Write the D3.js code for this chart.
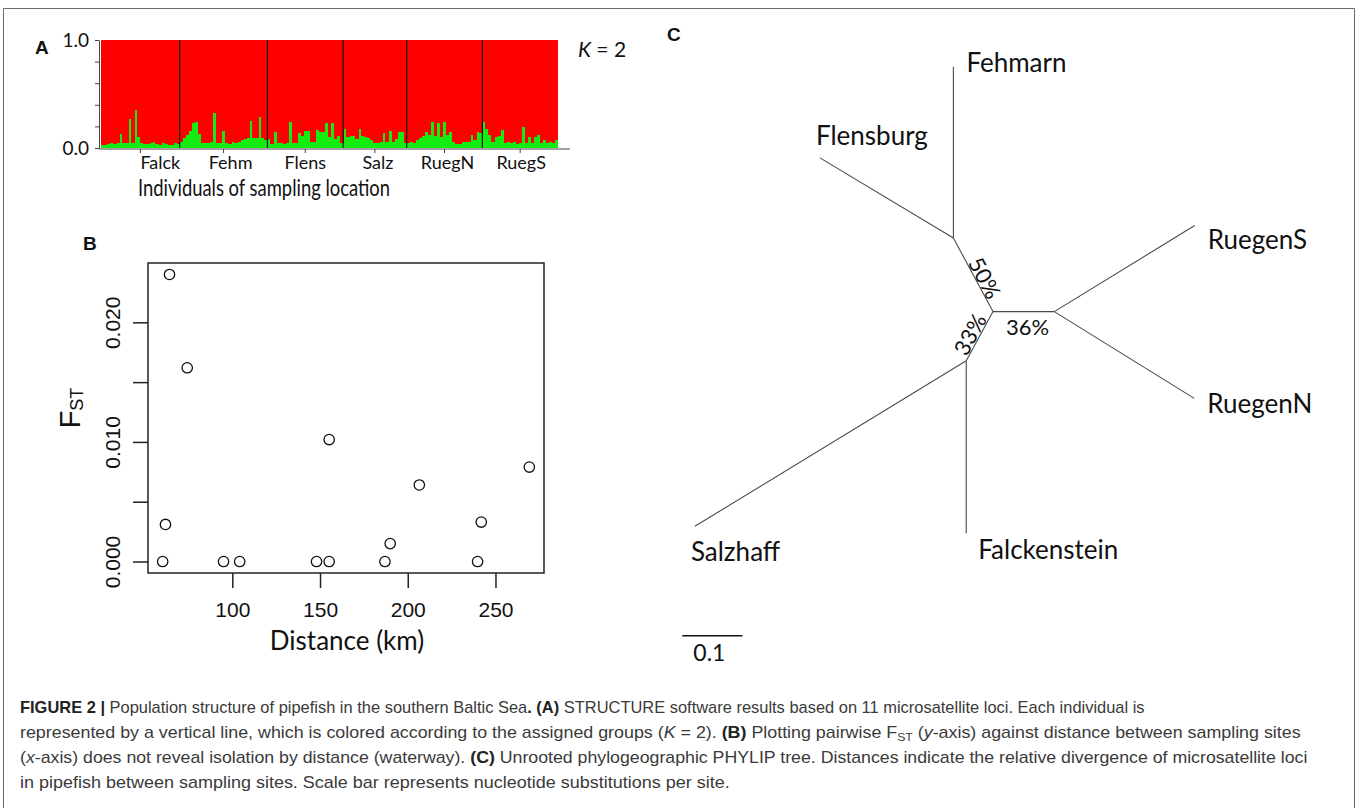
<!DOCTYPE html>
<html><head><meta charset="utf-8">
<script src="https://cdn.jsdelivr.net/npm/d3@7"></script>
<style>body{margin:0;background:#fff}svg{display:block}</style>
</head><body>
<svg id="c" width="1358" height="808"></svg>
<script>
// ---------- DATA ----------
const groups = ["Falck","Fehm","Flens","Salz","RuegN","RuegS"];
// green (cluster 2) membership per individual, by sampling location
const falck = [0.03,0.03,0.04,0.05,0.04,0.05,0.13,0.05,0.05,0.27,0.05,0.35,0.10,0.05,0.04,0.04,0.05,0.06,0.04,0.03,0.05,0.04,0.03,0.03,0.05,0.04];
const fehm  = [0.06,0.09,0.12,0.16,0.23,0.24,0.13,0.05,0.05,0.05,0.06,0.32,0.05,0.05,0.16,0.05,0.04,0.06,0.05,0.06,0.07,0.08,0.09,0.25,0.09,0.09,0.29,0.09,0.07];
const flens = [0.08,0.04,0.15,0.05,0.05,0.04,0.05,0.24,0.05,0.05,0.14,0.11,0.16,0.16,0.06,0.06,0.17,0.15,0.15,0.23,0.10,0.23,0.08,0.11,0.05];
const salz  = [0.18,0.10,0.11,0.11,0.08,0.18,0.11,0.10,0.09,0.07,0.05,0.05,0.06,0.14,0.06,0.16,0.06,0.08,0.15,0.15,0.05];
const ruegN = [0.05,0.06,0.05,0.07,0.09,0.11,0.15,0.12,0.24,0.11,0.23,0.10,0.24,0.12,0.15,0.06,0.04,0.04,0.06,0.06,0.06,0.12,0.07,0.15,0.14];
const ruegS = [0.24,0.18,0.12,0.06,0.10,0.11,0.17,0.05,0.06,0.05,0.06,0.04,0.05,0.19,0.05,0.10,0.05,0.10,0.12,0.05,0.07,0.05,0.06,0.05,0.07];
const yTicksA = [0,0.2,0.4,0.6,0.8,1.0];

// Panel B: pairwise distance (km) vs FST
const distance = [60.3,64.2,74.3,61.9,95.0,104.2,148.0,155.2,155.2,187.0,190.0,206.6,239.8,241.9,269.3];
const fst      = [0.0,0.024,0.0162,0.0031,0.0,0.0,0.0,0.0,0.0102,0.0,0.0015,0.0064,0.0,0.0033,0.0079];
const xTicksB = [100,150,200,250];
const yTicksB = [0,0.005,0.010,0.015,0.020];
const yLabelsB = [0,0.010,0.020];

// Panel C: unrooted tree (branch length in substitutions/site, direction in degrees)
const treeEdges = [
  {from:"c",  to:"n1", len:0.139, ang:-118.3, label:"50%"},
  {from:"c",  to:"n2", len:0.102, ang:0,      label:"36%"},
  {from:"c",  to:"n3", len:0.093, ang:118.6,  label:"33%"},
  {from:"n1", to:"Fehmarn",      len:0.285, ang:-90},
  {from:"n1", to:"Flensburg",    len:0.259, ang:-149},
  {from:"n2", to:"RuegenS",      len:0.274, ang:-31.5},
  {from:"n2", to:"RuegenN",      len:0.274, ang:31.8},
  {from:"n3", to:"Salzhaff",     len:0.529, ang:148.6},
  {from:"n3", to:"Falckenstein", len:0.287, ang:90}
];
const scaleBarValue = 0.1;

const captionLines = [
  [["FIGURE 2 | ","b"],["Population structure of pipefish in the southern Baltic Sea",""],[". (A)","b"],[" STRUCTURE software results based on 11 microsatellite loci. Each individual is",""]],
  [["represented by a vertical line, which is colored according to the assigned groups (",""],["K","i"],[" = 2). ",""],["(B)","b"],[" Plotting pairwise F",""],["ST","sub"],[" (",""],["y","i"],["-axis) against distance between sampling sites",""]],
  [["(",""],["x","i"],["-axis) does not reveal isolation by distance (waterway). ",""],["(C)","b"],[" Unrooted phylogeographic PHYLIP tree. Distances indicate the relative divergence of microsatellite loci",""]],
  [["in pipefish between sampling sites. Scale bar represents nucleotide substitutions per site.",""]]
];

// ---------- DRAW ----------
const svg = d3.select("#c");
const CAL = "Lato,'Open Sans',sans-serif";
const HEL = "'Liberation Sans',Arial,sans-serif";

// frame
svg.append("path").attr("d","M3.5,808 V8.5 H1354.5 V808").attr("fill","none").attr("stroke","#6a6a6a").attr("stroke-width",1);

// panel letters
const letter = (t,x,y)=>svg.append("text").attr("x",x).attr("y",y).text(t)
  .attr("font-family",HEL).attr("font-weight","bold").attr("font-size",19).attr("fill","#111");
letter("A",35,54); letter("B",83,250); letter("C",667,41);

// ---- Panel A ----
const gA = svg.append("g");
const greenByGroup = [falck,fehm,flens,salz,ruegN,ruegS];
const green = [].concat(...greenByGroup);
const xA = d3.scaleBand().domain(d3.range(green.length)).range([101,558]);
const yA = d3.scaleLinear().domain([0,1]).range([148,40]);
const stacked = d3.stack().keys(["green","red"])(green.map(g=>({green:g,red:1-g})));
const colA = {green:"#13ec13", red:"#fe0000"};
gA.selectAll("g.layer").data(stacked).join("g").attr("fill",d=>colA[d.key])
  .selectAll("rect").data(d=>d).join("rect")
  .attr("shape-rendering","crispEdges")
  .attr("x",(d,i)=>xA(i)).attr("width",xA.bandwidth()+0.4)
  .attr("y",d=>yA(d[1])).attr("height",d=>yA(d[0])-yA(d[1]));
// group boundaries
let cum = 0; const bounds = [], centers = [];
greenByGroup.forEach(arr=>{ centers.push(xA(cum) + arr.length*xA.step()/2); cum += arr.length; bounds.push(cum); });
gA.selectAll("line.div").data(bounds.slice(0,-1)).join("line")
  .attr("x1",d=>xA(d)).attr("x2",d=>xA(d)).attr("y1",yA(1)).attr("y2",yA(0))
  .attr("stroke","#111").attr("stroke-width",1.2);
// y axis
const axA = gA.append("g").attr("transform","translate(99,0)")
  .call(d3.axisLeft(yA).tickValues(yTicksA).tickSize(4).tickSizeOuter(0).tickPadding(6)
  .tickFormat(d=>(d===0||d===1)?d.toFixed(1):""));
axA.select(".domain").attr("stroke","#444");
axA.selectAll(".tick line").attr("stroke","#444");
axA.selectAll("text").attr("font-family",CAL).attr("font-size",19).attr("fill","#111");
// x axis baseline and group ticks
gA.append("line").attr("x1",99).attr("x2",570).attr("y1",149).attr("y2",149).attr("stroke","#444");
gA.selectAll("line.gt").data(centers).join("line")
  .attr("x1",d=>d).attr("x2",d=>d).attr("y1",149).attr("y2",153).attr("stroke","#444");
const labelShift = [20,7,0,3,3,1];
gA.selectAll("text.gl").data(groups).join("text")
  .attr("x",(d,i)=>centers[i]+labelShift[i]).attr("y",169).attr("text-anchor","middle")
  .attr("font-family",CAL).attr("font-size",18).attr("fill","#111").text(d=>d);
gA.append("text").attr("x",264).attr("y",196).attr("text-anchor","middle")
  .attr("font-family",CAL).attr("font-size",23).attr("fill","#111")
  .attr("textLength",252).attr("lengthAdjust","spacingAndGlyphs").text("Individuals of sampling location");
const kt = gA.append("text").attr("x",578).attr("y",57).attr("font-family",CAL).attr("font-size",21).attr("fill","#111");
kt.append("tspan").attr("font-style","italic").text("K");
kt.append("tspan").text(" = 2");

// ---- Panel B ----
const gB = svg.append("g");
const pad = (a,b)=>[a-(b-a)*0.04, b+(b-a)*0.04];
const xB = d3.scaleLinear().domain(pad(d3.min(distance),d3.max(distance))).range([148,544]);
const yB = d3.scaleLinear().domain(pad(0,d3.max(fst))).range([573,263]);
gB.append("rect").attr("x",148).attr("y",263).attr("width",396).attr("height",310)
  .attr("fill","none").attr("stroke","#222").attr("stroke-width",1.5);
const axBx = gB.append("g").attr("transform","translate(0,573)")
  .call(d3.axisBottom(xB).tickValues(xTicksB).tickSize(15).tickSizeOuter(0).tickPadding(14).tickFormat(d3.format("d")));
axBx.select(".domain").remove();
axBx.selectAll(".tick line").attr("stroke","#222").attr("stroke-width",1.5);
axBx.selectAll("text").attr("font-family",HEL).attr("font-size",21).attr("fill","#111");
const axBy = gB.append("g").attr("transform","translate(148,0)")
  .call(d3.axisLeft(yB).tickValues(yTicksB).tickSize(15).tickSizeOuter(0)
  .tickFormat(d=>yLabelsB.some(v=>Math.abs(v-d)<1e-9)?d3.format(".3f")(d):""));
axBy.select(".domain").remove();
axBy.selectAll(".tick line").attr("stroke","#222").attr("stroke-width",1.5);
axBy.selectAll(".tick text").attr("font-family",HEL).attr("font-size",21).attr("fill","#111")
  .attr("x",0).attr("dy",0).attr("text-anchor","middle")
  .attr("transform","translate(-36,0) rotate(-90)").attr("dominant-baseline","central");
gB.selectAll("circle").data(distance).join("circle")
  .attr("cx",d=>xB(d)).attr("cy",(d,i)=>yB(fst[i])).attr("r",5.2)
  .attr("fill","none").attr("stroke","#111").attr("stroke-width",1.3);
gB.append("text").attr("x",347).attr("y",650).attr("text-anchor","middle")
  .attr("font-family",CAL).attr("font-size",26).attr("fill","#111").text("Distance (km)");
const fl = gB.append("text").attr("transform","translate(80,408) rotate(-90)").attr("text-anchor","middle")
  .attr("font-family",HEL).attr("font-size",29).attr("fill","#111");
fl.append("tspan").text("F");
fl.append("tspan").attr("font-size",18).attr("dy",3).text("ST");

// ---- Panel C ----
const gC = svg.append("g").attr("transform","translate(993,311.6)");
const len = d3.scaleLinear().domain([0,scaleBarValue]).range([0,60.1]);
const pos = {c:[0,0]};
treeEdges.forEach(e=>{
  const p = pos[e.from], r = e.ang*Math.PI/180, L = len(e.len);
  pos[e.to] = [p[0]+L*Math.cos(r), p[1]+L*Math.sin(r)];
});
gC.selectAll("line").data(treeEdges).join("line")
  .attr("x1",d=>pos[d.from][0]).attr("y1",d=>pos[d.from][1])
  .attr("x2",d=>pos[d.to][0]).attr("y2",d=>pos[d.to][1])
  .attr("stroke","#4a4a4a").attr("stroke-width",1.1);
const leafOff = {Fehmarn:[13,5],Flensburg:[-4,-12.5],RuegenS:[13,23],RuegenN:[13,15],Salzhaff:[-4,35],Falckenstein:[12,26]};
gC.selectAll("text.leaf").data(treeEdges.filter(e=>leafOff[e.to])).join("text")
  .attr("x",d=>pos[d.to][0]+leafOff[d.to][0]).attr("y",d=>pos[d.to][1]+leafOff[d.to][1])
  .attr("font-family",CAL).attr("font-size",26).attr("fill","#111").text(d=>d.to);
const pctOff = {"50%":[12,3,61.7],"36%":[4,15,0],"33%":[-10,-2,-61.4]};
gC.selectAll("text.pct").data(treeEdges.filter(e=>e.label)).join("text")
  .attr("transform",d=>{const a=pos[d.from],b=pos[d.to],o=pctOff[d.label];
     return `translate(${(a[0]+b[0])/2+o[0]},${(a[1]+b[1])/2+o[1]}) rotate(${o[2]})`;})
  .attr("text-anchor","middle").attr("dominant-baseline","central")
  .attr("font-family",CAL).attr("font-size",22).attr("fill","#111").text(d=>d.label);
// scale bar
const sb = svg.append("g").attr("transform","translate(682.3,635.8)");
sb.append("line").attr("x1",0).attr("x2",len(scaleBarValue)).attr("stroke","#111").attr("stroke-width",1.6);
sb.append("text").attr("x",11).attr("y",25).attr("font-family",CAL).attr("font-size",23).attr("fill","#111").text(scaleBarValue);

// ---- Caption ----
const capY = [713,738,763,788], capEnd = [1145,1302,1309,730];
captionLines.forEach((parts,li)=>{
  const g = svg.append("g");
  const t = g.append("text").attr("x",0).attr("y",0).attr("font-family",HEL).attr("font-size",16).attr("fill","#3a3a3a");
  let shifted = false;
  parts.forEach(([s,st])=>{
    const ts = t.append("tspan").text(s);
    if(st==="b") ts.attr("font-weight","bold").attr("fill","#222");
    if(st==="i") ts.attr("font-style","italic");
    if(st==="sub"){ ts.attr("font-size",11).attr("dy",3); shifted = true; }
    else if(shifted){ ts.attr("dy",-3); shifted=false; }
  });
  const w = t.node().getComputedTextLength();
  g.attr("transform",`translate(20,${capY[li]}) scale(${(capEnd[li]-20)/w},1)`);
});
</script>
</body></html>
